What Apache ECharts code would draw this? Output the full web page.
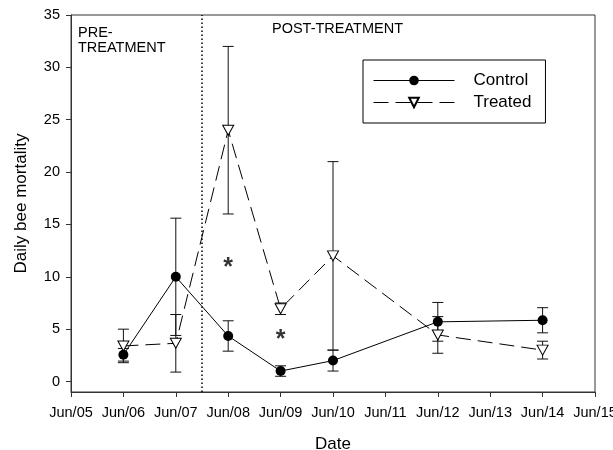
<!DOCTYPE html>
<html>
<head>
<meta charset="utf-8">
<title>Daily bee mortality</title>
<script src="https://cdn.jsdelivr.net/npm/echarts@6/dist/echarts.min.js"></script>
<style>
  html, body { margin: 0; padding: 0; background: #fff; }
  #chart { width: 613px; height: 450px; }
</style>
</head>
<body>
<div id="chart"></div>
<script>
// Sampling days (day of June)
const days = [6, 7, 8, 9, 10, 12, 14];

// Control colonies: mean daily mortality and error
const controlMean = [2.55, 10.0, 4.35, 1.0, 2.0, 5.7, 5.85];
const controlErr  = [0.6, 5.6, 1.45, 0.5, 1.0, 1.85, 1.2];

// Treated colonies: mean daily mortality and error
const treatedMean = [3.4, 3.65, 24.0, 6.95, 12.0, 4.45, 3.0];
const treatedErr  = [1.6, 2.75, 8.0, 0.55, 9.0, 1.75, 0.85];

// Significant differences
const starDays   = [8, 9];
const starLevels = [11.3, 4.4];

// Treatment start (between Jun 7 and Jun 8)
const treatmentStart = 7.5;

// Axis ticks
const xTicks = [5, 6, 7, 8, 9, 10, 11, 12, 13, 14, 15];
const xTickLabels = ['Jun/05', 'Jun/06', 'Jun/07', 'Jun/08', 'Jun/09', 'Jun/10',
                     'Jun/11', 'Jun/12', 'Jun/13', 'Jun/14', 'Jun/15'];
const yTicks = [0, 5, 10, 15, 20, 25, 30, 35];

const FONT = '"Liberation Sans", Arial, sans-serif';
const AXIS_COLOR = '#333';

function pairs(xs, ys) {
  return xs.map((x, i) => [x, ys[i]]);
}

function errorTriples(xs, means, errs) {
  return xs.map((x, i) => [x, means[i] - errs[i], means[i] + errs[i]]);
}

// Vertical error bar with caps
function renderErrorBar(params, api) {
  const x = api.value(0);
  const lo = api.coord([x, api.value(1)]);
  const hi = api.coord([x, api.value(2)]);
  const half = 5.5;
  const style = { stroke: '#111', lineWidth: 1, fill: null };
  return {
    type: 'group',
    children: [
      { type: 'line', shape: { x1: lo[0], y1: lo[1], x2: hi[0], y2: hi[1] }, style },
      { type: 'line', shape: { x1: hi[0] - half, y1: hi[1], x2: hi[0] + half, y2: hi[1] }, style },
      { type: 'line', shape: { x1: lo[0] - half, y1: lo[1], x2: lo[0] + half, y2: lo[1] }, style }
    ]
  };
}

const chart = echarts.init(document.getElementById('chart'), null, { renderer: 'canvas' });

chart.setOption({
  animation: false,
  backgroundColor: '#fff',
  textStyle: { fontFamily: FONT, color: '#000' },
  grid: {
    left: 71, right: 18, top: 15, bottom: 58,
    containLabel: false,
    outerBoundsMode: 'none',
    show: true, borderColor: AXIS_COLOR, borderWidth: 1, backgroundColor: 'transparent'
  },
  legend: {
    data: ['Control', 'Treated'],
    orient: 'vertical',
    left: 363, top: 60,
    itemWidth: 81, itemHeight: 12, itemGap: 5,
    padding: [12, 14, 12, 10],
    borderColor: '#000', borderWidth: 1, borderRadius: 0,
    backgroundColor: '#fff',
    lineStyle: { width: 1 },
    textStyle: { fontSize: 17, fontFamily: FONT, color: '#000', padding: [0, 0, 0, 14] }
  },
  graphic: [
    { type: 'text', left: 78, top: 25,
      style: { text: 'PRE-\nTREATMENT', font: '14.5px ' + FONT, fill: '#000', lineHeight: 15 } },
    { type: 'text', left: 272, top: 21,
      style: { text: 'POST-TREATMENT', font: '14.5px ' + FONT, fill: '#000' } }
  ],
  xAxis: {
    type: 'value',
    min: 5, max: 15, interval: 1,
    name: 'Date',
    nameLocation: 'middle',
    nameGap: 44,
    nameTextStyle: { fontSize: 17, fontFamily: FONT, color: '#000' },
    axisLine: { show: true, onZero: false, lineStyle: { color: AXIS_COLOR, width: 1 } },
    axisTick: { show: true, length: 5, lineStyle: { color: AXIS_COLOR } },
    axisLabel: {
      fontSize: 14.5, fontFamily: FONT, color: '#000', margin: 13,
      formatter: v => xTickLabels[xTicks.indexOf(v)] || ''
    },
    splitLine: { show: false }
  },
  yAxis: {
    type: 'value',
    min: -1, max: 35,
    name: 'Daily bee mortality',
    nameLocation: 'middle',
    nameGap: 41,
    nameTextStyle: { fontSize: 17, fontFamily: FONT, color: '#000' },
    axisLine: { show: true, onZero: false, lineStyle: { color: AXIS_COLOR, width: 1 } },
    axisTick: { show: true, length: 5, lineStyle: { color: AXIS_COLOR }, customValues: yTicks },
    axisLabel: { fontSize: 14.5, fontFamily: FONT, color: '#000', margin: 11, customValues: yTicks },
    splitLine: { show: false }
  },
  series: [
    {
      name: 'Control error',
      type: 'custom',
      renderItem: renderErrorBar,
      data: errorTriples(days, controlMean, controlErr),
      encode: { x: 0, y: [1, 2] },
      z: 1, silent: true
    },
    {
      name: 'Treated error',
      type: 'custom',
      renderItem: renderErrorBar,
      data: errorTriples(days, treatedMean, treatedErr),
      encode: { x: 0, y: [1, 2] },
      z: 1, silent: true
    },
    {
      name: 'Control',
      type: 'line',
      data: pairs(days, controlMean),
      symbol: 'circle',
      symbolSize: 10,
      itemStyle: { color: '#000', borderColor: '#000', borderWidth: 0 },
      lineStyle: { color: '#000', width: 1 },
      z: 3,
      markLine: {
        silent: true,
        symbol: ['none', 'none'],
        label: { show: false },
        lineStyle: { color: '#000', type: [1.5, 2.5], width: 1.5 },
        data: [{ xAxis: treatmentStart }]
      }
    },
    {
      name: 'Treated',
      type: 'line',
      data: pairs(days, treatedMean),
      symbol: 'triangle',
      symbolRotate: 180,
      symbolSize: [11, 10],
      showAllSymbol: true,
      itemStyle: { color: '#fff', borderColor: '#000', borderWidth: 1 },
      lineStyle: { color: '#000', width: 1, type: [15, 7] },
      z: 4
    },
    {
      name: 'Significance',
      type: 'scatter',
      data: pairs(starDays, starLevels),
      symbolSize: 1,
      itemStyle: { color: 'transparent' },
      label: {
        show: true, position: 'inside', formatter: '*',
        fontSize: 25, fontWeight: 'bold', fontFamily: FONT, color: '#000', offset: [0, 5]
      },
      silent: true,
      z: 5
    }
  ]
});
</script>
</body>
</html>
